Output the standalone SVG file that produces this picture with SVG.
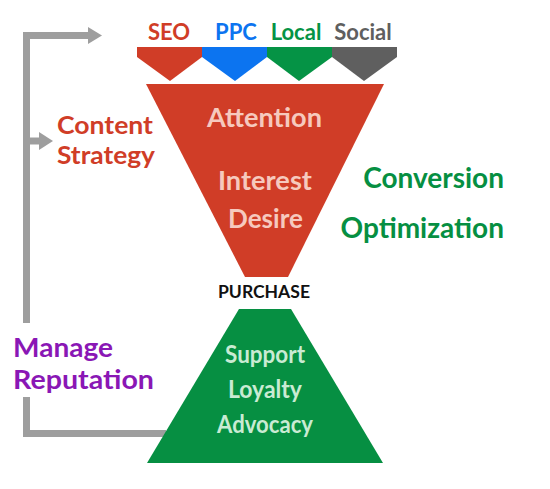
<svg xmlns="http://www.w3.org/2000/svg" width="550" height="489" viewBox="0 0 550 489">
<style>
text{font-family:Lato,"Open Sans",sans-serif;font-weight:700}
.tab{font-size:22px;text-anchor:middle}
.fun{font-size:26px;text-anchor:middle;fill:#F6C9BE}
.pyr{font-size:24px;text-anchor:middle;fill:#C9EBD3}
.conn{fill:none;stroke:#9E9E9E;stroke-width:7}
</style>
<rect width="550" height="489" fill="#fff"/>
<g id="connectors">
<path class="conn" d="M166,433.5 H26.5 V397"/>
<path class="conn" d="M26.5,323 V35.5 H90"/>
<polygon points="88,27 102,35.5 88,44" fill="#9E9E9E"/>
<path class="conn" d="M26.5,141 H41"/>
<polygon points="39,132 53,141 39,150" fill="#9E9E9E"/>
</g>
<g id="seo">
<polygon points="137,47 202,47 202,57 170,81 137,57" fill="#D03D27"/>
<text class="tab" x="169" y="40" fill="#D03D27">SEO</text>
</g>
<g id="ppc">
<polygon points="202,47 267,47 267,57 235,81 202,57" fill="#0C74F0"/>
<text class="tab" x="236" y="40" fill="#0C74F0">PPC</text>
</g>
<g id="local">
<polygon points="267,47 332,47 332,57 299,81 267,57" fill="#059345"/>
<text class="tab" x="296" y="40" fill="#059345">Local</text>
</g>
<g id="social">
<polygon points="332,47 397,47 397,57 364,81 332,57" fill="#5F5F5F"/>
<text class="tab" x="363" y="40" fill="#5F5F5F">Social</text>
</g>
<g id="funnel">
<polygon points="146,84 384,84 288,277 245,277" fill="#D03D27"/>
<text class="fun" x="264.5" y="127" textLength="115" lengthAdjust="spacingAndGlyphs">Attention</text>
<text class="fun" x="265" y="190" textLength="94" lengthAdjust="spacingAndGlyphs">Interest</text>
<text class="fun" x="265.5" y="228" textLength="75" lengthAdjust="spacingAndGlyphs">Desire</text>
</g>
<g id="purchase">
<text x="264" y="298" font-size="16.5" text-anchor="middle" fill="#111" textLength="92" lengthAdjust="spacingAndGlyphs">PURCHASE</text>
</g>
<g id="pyramid">
<polygon points="239,309 291,309 383,463 147,463" fill="#068F42"/>
<text class="pyr" x="265" y="363" textLength="80" lengthAdjust="spacingAndGlyphs">Support</text>
<text class="pyr" x="265" y="398" textLength="74" lengthAdjust="spacingAndGlyphs">Loyalty</text>
<text class="pyr" x="265" y="433" textLength="96" lengthAdjust="spacingAndGlyphs">Advocacy</text>
</g>
<g id="content-strategy">
<text x="57" y="134" font-size="25" fill="#D03D27" textLength="96" lengthAdjust="spacingAndGlyphs">Content</text>
<text x="57" y="164" font-size="25" fill="#D03D27" textLength="98" lengthAdjust="spacingAndGlyphs">Strategy</text>
</g>
<g id="conversion">
<text x="504" y="188" font-size="28" text-anchor="end" fill="#068F42">Conversion</text>
<text x="504" y="238" font-size="28" text-anchor="end" fill="#068F42">Optimization</text>
</g>
<g id="manage-reputation">
<text x="13" y="356.5" font-size="26.5" fill="#8A17B5" textLength="100" lengthAdjust="spacingAndGlyphs">Manage</text>
<text x="13" y="388.5" font-size="26.5" fill="#8A17B5" textLength="141" lengthAdjust="spacingAndGlyphs">Reputation</text>
</g>
</svg>
